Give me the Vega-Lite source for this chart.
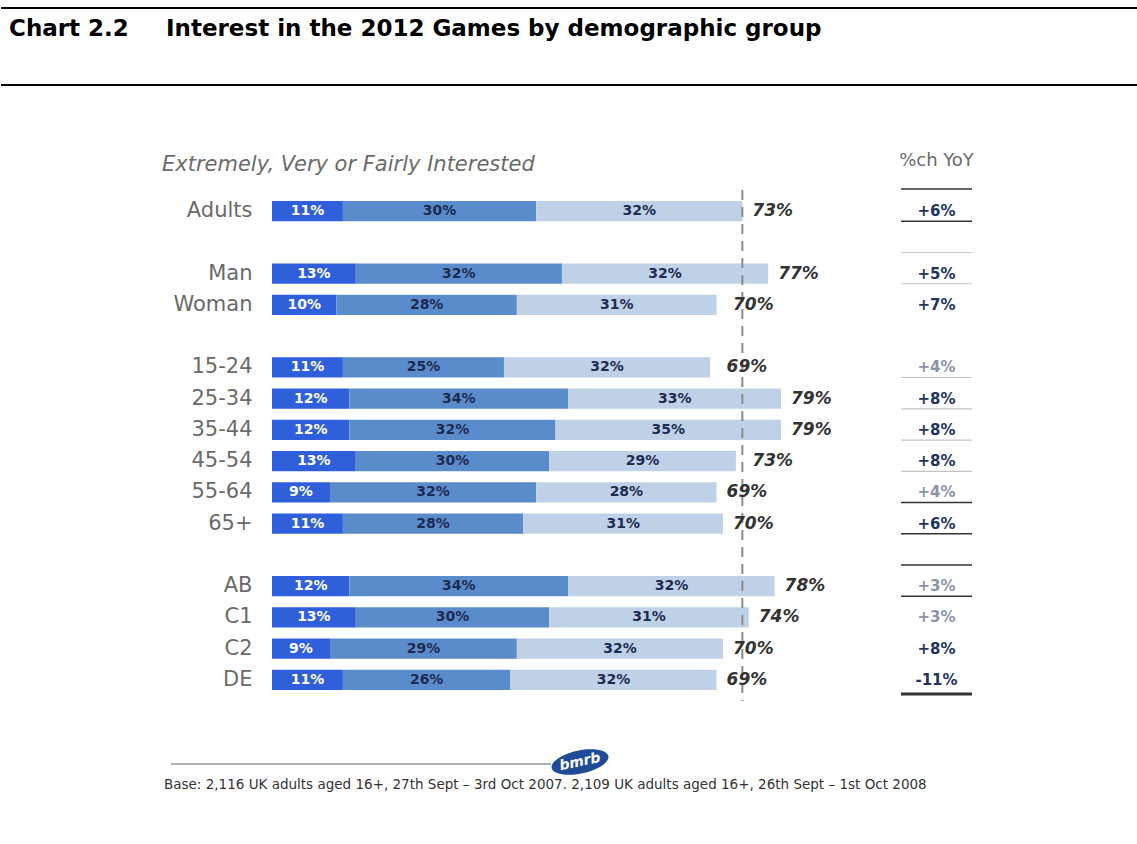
{
  "$schema": "https://vega.github.io/schema/vega-lite/v6.json",
  "padding": {"top": 7, "left": 0, "right": 0, "bottom": 0},
  "background": "white",
  "config": {"view": {"stroke": null}, "font": "DejaVu Sans"},
  "datasets": {
    "segments": [
      {"group": "Adults", "level": "Extremely", "value": 11},
      {"group": "Adults", "level": "Very", "value": 30},
      {"group": "Adults", "level": "Fairly", "value": 32},
      {"group": "Man", "level": "Extremely", "value": 13},
      {"group": "Man", "level": "Very", "value": 32},
      {"group": "Man", "level": "Fairly", "value": 32},
      {"group": "Woman", "level": "Extremely", "value": 10},
      {"group": "Woman", "level": "Very", "value": 28},
      {"group": "Woman", "level": "Fairly", "value": 31},
      {"group": "15-24", "level": "Extremely", "value": 11},
      {"group": "15-24", "level": "Very", "value": 25},
      {"group": "15-24", "level": "Fairly", "value": 32},
      {"group": "25-34", "level": "Extremely", "value": 12},
      {"group": "25-34", "level": "Very", "value": 34},
      {"group": "25-34", "level": "Fairly", "value": 33},
      {"group": "35-44", "level": "Extremely", "value": 12},
      {"group": "35-44", "level": "Very", "value": 32},
      {"group": "35-44", "level": "Fairly", "value": 35},
      {"group": "45-54", "level": "Extremely", "value": 13},
      {"group": "45-54", "level": "Very", "value": 30},
      {"group": "45-54", "level": "Fairly", "value": 29},
      {"group": "55-64", "level": "Extremely", "value": 9},
      {"group": "55-64", "level": "Very", "value": 32},
      {"group": "55-64", "level": "Fairly", "value": 28},
      {"group": "65+", "level": "Extremely", "value": 11},
      {"group": "65+", "level": "Very", "value": 28},
      {"group": "65+", "level": "Fairly", "value": 31},
      {"group": "AB", "level": "Extremely", "value": 12},
      {"group": "AB", "level": "Very", "value": 34},
      {"group": "AB", "level": "Fairly", "value": 32},
      {"group": "C1", "level": "Extremely", "value": 13},
      {"group": "C1", "level": "Very", "value": 30},
      {"group": "C1", "level": "Fairly", "value": 31},
      {"group": "C2", "level": "Extremely", "value": 9},
      {"group": "C2", "level": "Very", "value": 29},
      {"group": "C2", "level": "Fairly", "value": 32},
      {"group": "DE", "level": "Extremely", "value": 11},
      {"group": "DE", "level": "Very", "value": 26},
      {"group": "DE", "level": "Fairly", "value": 32}
    ],
    "totals": [
      {"group": "Adults", "total": 73, "yoy": "+6%", "significant": "yes"},
      {"group": "Man", "total": 77, "yoy": "+5%", "significant": "yes"},
      {"group": "Woman", "total": 70, "yoy": "+7%", "significant": "yes"},
      {"group": "15-24", "total": 69, "yoy": "+4%", "significant": "no"},
      {"group": "25-34", "total": 79, "yoy": "+8%", "significant": "yes"},
      {"group": "35-44", "total": 79, "yoy": "+8%", "significant": "yes"},
      {"group": "45-54", "total": 73, "yoy": "+8%", "significant": "yes"},
      {"group": "55-64", "total": 69, "yoy": "+4%", "significant": "no"},
      {"group": "65+", "total": 70, "yoy": "+6%", "significant": "yes"},
      {"group": "AB", "total": 78, "yoy": "+3%", "significant": "no"},
      {"group": "C1", "total": 74, "yoy": "+3%", "significant": "no"},
      {"group": "C2", "total": 70, "yoy": "+8%", "significant": "yes"},
      {"group": "DE", "total": 69, "yoy": "-11%", "significant": "yes"}
    ],
    "rows": [
      {"group": "Adults"}, {"group": " "}, {"group": "Man"}, {"group": "Woman"}, {"group": "  "},
      {"group": "15-24"}, {"group": "25-34"}, {"group": "35-44"}, {"group": "45-54"}, {"group": "55-64"},
      {"group": "65+"}, {"group": "   "}, {"group": "AB"}, {"group": "C1"}, {"group": "C2"}, {"group": "DE"}
    ]
  },
  "spacing": 66,
  "vconcat": [
    {
      "width": 866,
      "height": 77,
      "data": {"values": [{}]},
      "layer": [
        {
          "mark": {"type": "rule", "color": "black", "strokeWidth": 2},
          "encoding": {
            "x": {"datum": -271, "type": "quantitative", "scale": {"domain": [0, 866], "nice": false, "zero": false}, "axis": null},
            "x2": {"datum": 866},
            "y": {"datum": 0, "type": "quantitative", "scale": {"domain": [0, 77], "reverse": true, "nice": false, "zero": false}, "axis": null}
          }
        },
        {
          "mark": {"type": "rule", "color": "black", "strokeWidth": 2},
          "encoding": {
            "x": {"datum": -271, "type": "quantitative", "scale": {"domain": [0, 866], "nice": false, "zero": false}, "axis": null},
            "x2": {"datum": 866},
            "y": {"datum": 77, "type": "quantitative", "scale": {"domain": [0, 77], "reverse": true, "nice": false, "zero": false}, "axis": null}
          }
        },
        {
          "mark": {"type": "text", "align": "left", "baseline": "middle", "font": "DejaVu Sans", "fontSize": 23, "fontWeight": "bold", "color": "black", "text": "Chart 2.2"},
          "encoding": {
            "x": {"datum": -263, "type": "quantitative", "scale": {"domain": [0, 866], "nice": false, "zero": false}, "axis": null},
            "y": {"datum": 21, "type": "quantitative", "scale": {"domain": [0, 77], "reverse": true, "nice": false, "zero": false}, "axis": null}
          }
        },
        {
          "mark": {"type": "text", "align": "left", "baseline": "middle", "font": "DejaVu Sans", "fontSize": 23, "fontWeight": "bold", "color": "black", "text": "Interest in the 2012 Games by demographic group"},
          "encoding": {
            "x": {"datum": -106, "type": "quantitative", "scale": {"domain": [0, 866], "nice": false, "zero": false}, "axis": null},
            "y": {"datum": 21, "type": "quantitative", "scale": {"domain": [0, 77], "reverse": true, "nice": false, "zero": false}, "axis": null}
          }
        }
      ]
    },
    {
      "spacing": 47,
      "vconcat": [
        {
          "spacing": 60,
          "hconcat": [
            {
              "width": 567,
              "height": 511,
              "title": {"text": "Extremely, Very or Fairly Interested", "anchor": "start", "font": "DejaVu Sans", "fontStyle": "italic", "fontWeight": "normal", "fontSize": 21, "color": "#6b6b6b", "offset": 14, "dx": -11},
              "data": {"name": "segments"},
              "layer": [
                {
                  "transform": [
                    {"calculate": "indexof(['Extremely','Very','Fairly'], datum.level)", "as": "rank"},
                    {"stack": "value", "groupby": ["group"], "sort": [{"field": "rank", "order": "ascending"}], "as": ["v0", "v1"]}
                  ],
                  "mark": {"type": "bar"},
                  "encoding": {
                    "y": {"field": "group", "type": "nominal", "title": null,
                      "scale": {"domain": ["Adults", " ", "Man", "Woman", "  ", "15-24", "25-34", "35-44", "45-54", "55-64", "65+", "   ", "AB", "C1", "C2", "DE"], "paddingInner": 0.35, "paddingOuter": 0.35},
                      "axis": {"ticks": false, "domain": false, "labelFont": "DejaVu Sans", "labelFontSize": 21, "labelColor": "#6a6a6a", "labelPadding": 20}},
                    "x": {"field": "v0", "type": "quantitative", "scale": {"domain": [0, 88], "nice": false}, "axis": null},
                    "x2": {"field": "v1"},
                    "color": {"field": "level", "type": "nominal", "scale": {"domain": ["Extremely", "Very", "Fairly"], "range": ["#2f5fdb", "#5a8bcb", "#bfd1e7"]}, "legend": null}
                  }
                },
                {
                  "transform": [
                    {"calculate": "indexof(['Extremely','Very','Fairly'], datum.level)", "as": "rank"},
                    {"stack": "value", "groupby": ["group"], "sort": [{"field": "rank", "order": "ascending"}], "as": ["v0", "v1"]},
                    {"calculate": "(datum.v0 + datum.v1) / 2", "as": "mid"},
                    {"calculate": "datum.value + '%'", "as": "label"}
                  ],
                  "mark": {"type": "text", "font": "DejaVu Sans", "fontSize": 14, "fontWeight": "bold", "align": "center", "baseline": "middle"},
                  "encoding": {
                    "y": {"field": "group", "type": "nominal", "title": null,
                      "scale": {"domain": ["Adults", " ", "Man", "Woman", "  ", "15-24", "25-34", "35-44", "45-54", "55-64", "65+", "   ", "AB", "C1", "C2", "DE"], "paddingInner": 0.35, "paddingOuter": 0.35}},
                    "x": {"field": "mid", "type": "quantitative", "scale": {"domain": [0, 88], "nice": false}, "axis": null},
                    "text": {"field": "label"},
                    "color": {"condition": {"test": "datum.level === 'Extremely'", "value": "white"}, "value": "#1d2b52"}
                  }
                },
                {
                  "data": {"name": "totals"},
                  "transform": [{"filter": "datum.group === 'Adults'"}],
                  "mark": {"type": "rule", "color": "#8a8a8a", "strokeWidth": 2, "strokeDash": [10, 7]},
                  "encoding": {
                    "x": {"field": "total", "type": "quantitative", "scale": {"domain": [0, 88], "nice": false}, "axis": null}
                  }
                },
                {
                  "data": {"name": "totals"},
                  "transform": [{"calculate": "datum.total + '%'", "as": "tlabel"}],
                  "mark": {"type": "text", "font": "DejaVu Sans", "fontSize": 17, "fontStyle": "italic", "fontWeight": "bold", "color": "#333333", "align": "left", "baseline": "middle", "dx": 10},
                  "encoding": {
                    "y": {"field": "group", "type": "nominal", "title": null,
                      "scale": {"domain": ["Adults", " ", "Man", "Woman", "  ", "15-24", "25-34", "35-44", "45-54", "55-64", "65+", "   ", "AB", "C1", "C2", "DE"], "paddingInner": 0.35, "paddingOuter": 0.35}},
                    "x": {"field": "total", "type": "quantitative", "scale": {"domain": [0, 88], "nice": false}, "axis": null},
                    "text": {"field": "tlabel"}
                  }
                }
              ]
            },
            {
              "width": 71,
              "height": 511,
              "title": {"text": "%ch YoY", "font": "DejaVu Sans", "fontSize": 18, "fontWeight": "normal", "color": "#6b6b6b", "offset": 18},
              "layer": [
                {
                  "data": {"name": "totals"},
                  "mark": {"type": "text", "font": "DejaVu Sans", "fontSize": 15, "fontWeight": "bold", "align": "center", "baseline": "middle"},
                  "encoding": {
                    "y": {"field": "group", "type": "nominal", "title": null,
                      "scale": {"domain": ["Adults", " ", "Man", "Woman", "  ", "15-24", "25-34", "35-44", "45-54", "55-64", "65+", "   ", "AB", "C1", "C2", "DE"], "paddingInner": 0.35, "paddingOuter": 0.35}, "axis": null},
                    "text": {"field": "yoy"},
                    "color": {"condition": {"test": "datum.significant === 'yes'", "value": "#22335f"}, "value": "#8b93a8"}
                  }
                },
                {
                  "data": {"name": "rows"},
                  "transform": [{"filter": {"field": "group", "oneOf": [" ", "Man", "15-24", "25-34", "35-44", "45-54"]}}],
                  "mark": {"type": "rule", "color": "#c4c4c4", "strokeWidth": 1.2},
                  "encoding": {
                    "y": {"field": "group", "type": "nominal", "title": null, "bandPosition": 1,
                      "scale": {"domain": ["Adults", " ", "Man", "Woman", "  ", "15-24", "25-34", "35-44", "45-54", "55-64", "65+", "   ", "AB", "C1", "C2", "DE"], "paddingInner": 0.35, "paddingOuter": 0.35}, "axis": null}
                  }
                },
                {
                  "data": {"name": "rows"},
                  "transform": [{"filter": {"field": "group", "oneOf": ["Adults", "55-64", "65+", "   ", "AB"]}}],
                  "mark": {"type": "rule", "color": "#333333", "strokeWidth": 1.5},
                  "encoding": {
                    "y": {"field": "group", "type": "nominal", "title": null, "bandPosition": 1,
                      "scale": {"domain": ["Adults", " ", "Man", "Woman", "  ", "15-24", "25-34", "35-44", "45-54", "55-64", "65+", "   ", "AB", "C1", "C2", "DE"], "paddingInner": 0.35, "paddingOuter": 0.35}, "axis": null}
                  }
                },
                {
                  "data": {"name": "rows"},
                  "transform": [{"filter": {"field": "group", "oneOf": ["DE"]}}],
                  "mark": {"type": "rule", "color": "#333333", "strokeWidth": 3, "yOffset": 4},
                  "encoding": {
                    "y": {"field": "group", "type": "nominal", "title": null, "bandPosition": 1,
                      "scale": {"domain": ["Adults", " ", "Man", "Woman", "  ", "15-24", "25-34", "35-44", "45-54", "55-64", "65+", "   ", "AB", "C1", "C2", "DE"], "paddingInner": 0.35, "paddingOuter": 0.35}, "axis": null}
                  }
                },
                {
                  "data": {"name": "rows"},
                  "transform": [{"filter": {"field": "group", "oneOf": ["Adults"]}}],
                  "mark": {"type": "rule", "color": "#333333", "strokeWidth": 1.5, "yOffset": -12},
                  "encoding": {
                    "y": {"field": "group", "type": "nominal", "title": null, "bandPosition": 0,
                      "scale": {"domain": ["Adults", " ", "Man", "Woman", "  ", "15-24", "25-34", "35-44", "45-54", "55-64", "65+", "   ", "AB", "C1", "C2", "DE"], "paddingInner": 0.35, "paddingOuter": 0.35}, "axis": null}
                  }
                }
              ]
            }
          ]
        },
        {
          "width": 700,
          "height": 44,
          "data": {"values": [{}]},
          "layer": [
            {
              "mark": {"type": "rule", "color": "#b0b0b0", "strokeWidth": 2},
              "encoding": {
                "x": {"datum": -101, "type": "quantitative", "scale": {"domain": [0, 700], "nice": false, "zero": false}, "axis": null},
                "x2": {"datum": 279},
                "y": {"datum": 13, "type": "quantitative", "scale": {"domain": [0, 44], "reverse": true, "nice": false, "zero": false}, "axis": null}
              }
            },
            {
              "mark": {"type": "point", "shape": "M-1,0A1,0.4,0,1,1,1,0A1,0.4,0,1,1,-1,0Z", "size": 3364, "filled": true, "color": "#1f4b97", "opacity": 1, "angle": -12},
              "encoding": {
                "x": {"datum": 308, "type": "quantitative", "scale": {"domain": [0, 700], "nice": false, "zero": false}, "axis": null},
                "y": {"datum": 11, "type": "quantitative", "scale": {"domain": [0, 44], "reverse": true, "nice": false, "zero": false}, "axis": null}
              }
            },
            {
              "mark": {"type": "text", "text": "bmrb", "color": "white", "font": "DejaVu Sans", "fontStyle": "italic", "fontWeight": "bold", "fontSize": 14, "angle": -12, "align": "center", "baseline": "middle"},
              "encoding": {
                "x": {"datum": 308, "type": "quantitative", "scale": {"domain": [0, 700], "nice": false, "zero": false}, "axis": null},
                "y": {"datum": 11, "type": "quantitative", "scale": {"domain": [0, 44], "reverse": true, "nice": false, "zero": false}, "axis": null}
              }
            },
            {
              "mark": {"type": "text", "text": "Base: 2,116 UK adults aged 16+, 27th Sept – 3rd Oct 2007. 2,109 UK adults aged 16+, 26th Sept – 1st Oct 2008", "color": "#333333", "font": "DejaVu Sans", "fontSize": 13.5, "align": "left", "baseline": "middle"},
              "encoding": {
                "x": {"datum": -108, "type": "quantitative", "scale": {"domain": [0, 700], "nice": false, "zero": false}, "axis": null},
                "y": {"datum": 34, "type": "quantitative", "scale": {"domain": [0, 44], "reverse": true, "nice": false, "zero": false}, "axis": null}
              }
            }
          ]
        }
      ]
    }
  ]
}
